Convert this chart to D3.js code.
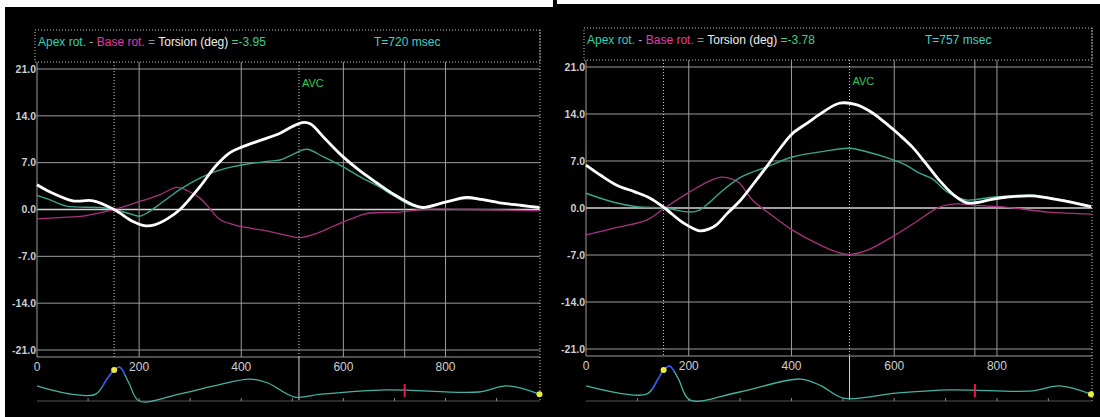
<!DOCTYPE html>
<html>
<head>
    <title>Torsion curves</title>
    <script src="https://d3js.org/d3.v7.min.js"></script>
</head>
<body style="margin: 0; padding: 0; background: #ffffff;">
    <div id="container"></div>

    <script>
        // eixos
        var yTicks = [-21, -14, -7, 0, 7, 14, 21];
        var xTicks = [0, 200, 400, 600, 800];
        var tMax = 985;

        // painel esquerdo [ms, graus]
        var leftTorsion = [[0, 3.7], [26, 2.6], [70, 1.3], [110, 1.3], [151, 0], [188, -1.8], [210, -2.4], [230, -2.3], [255, -1.4], [280, 0], [319, 3.4], [350, 6.5], [378, 8.5], [403, 9.4], [440, 10.4], [476, 11.4], [500, 12.4], [520, 13.0], [535, 12.8], [565, 10.5], [599, 7.9], [632, 5.8], [665, 4.0], [700, 2.2], [736, 0.7], [755, 0.3], [800, 1.1], [841, 1.8], [870, 1.5], [906, 1.0], [950, 0.6], [984, 0.3]];
        var leftApex = [[0, 2.1], [30, 1.3], [58, 0.5], [123, 0.3], [151, 0], [180, -0.6], [201, -1.0], [218, -0.4], [235, 0.5], [258, 1.8], [280, 3.0], [319, 4.7], [350, 5.7], [384, 6.4], [450, 7.2], [476, 7.4], [500, 8.2], [528, 9.0], [560, 7.9], [599, 6.4], [630, 5.0], [665, 3.6], [700, 2.0], [736, 0.5], [760, 0.4], [800, 1.1], [841, 1.6], [906, 1.0], [984, 0.3]];
        var leftBase = [[0, -1.4], [45, -1.2], [90, -1.0], [123, -0.5], [151, 0], [201, 1.2], [240, 2.2], [274, 3.3], [295, 2.8], [319, 1.7], [340, 0], [358, -1.5], [397, -2.5], [450, -3.2], [490, -3.9], [515, -4.2], [550, -3.5], [580, -2.5], [615, -1.4], [646, -0.6], [710, -0.4], [755, 0], [850, 0], [984, -0.2]];
        var leftEcg = [[0, 0.42], [67, 0.19], [115, 0.19], [137, 0.61], [151, 0.86], [162, 0.94], [180, 0.5], [200, 0], [278, 0.19], [346, 0.42], [417, 0.61], [452, 0.5], [505, 0.11], [556, 0.19], [683, 0.31], [865, 0.25], [920, 0.42], [984, 0.19]];

        // painel direito
        var rightTorsion = [[0, 6.4], [30, 4.8], [60, 3.4], [95, 2.4], [124, 1.5], [153, 0], [189, -2.2], [221, -3.4], [240, -3.1], [254, -2.5], [275, -0.8], [299, 1.0], [325, 3.5], [351, 6.1], [375, 8.6], [402, 11.1], [430, 12.6], [454, 13.9], [493, 15.6], [526, 15.4], [555, 14.3], [584, 12.6], [610, 10.9], [635, 9.1], [660, 6.8], [687, 4.2], [715, 2.0], [740, 0.8], [759, 0.8], [790, 1.3], [817, 1.6], [868, 1.8], [920, 1.2], [983, 0.2]];
        var rightApex = [[0, 2.2], [52, 0.9], [99, 0.2], [153, 0], [202, -0.6], [221, -0.3], [240, 0.8], [260, 2.2], [299, 4.5], [351, 6.1], [402, 7.6], [460, 8.4], [513, 8.9], [550, 8.3], [590, 7.4], [620, 6.5], [649, 5.2], [675, 4.3], [701, 2.5], [740, 1.2], [790, 1.6], [868, 1.9], [920, 1.3], [983, 0.3]];
        var rightBase = [[0, -4.0], [60, -2.9], [118, -1.8], [153, 0], [202, 2.4], [240, 4.0], [264, 4.6], [285, 4.3], [299, 3.7], [324, 1.2], [360, -1.0], [402, -3.3], [450, -5.3], [490, -6.6], [513, -6.9], [550, -6.2], [596, -4.3], [640, -2.2], [687, 0.1], [720, 0.6], [760, 0.4], [820, 0.1], [900, -0.6], [983, -0.9]];
        var rightEcg = [[0, 0.42], [118, 0.19], [140, 0.61], [151, 0.86], [163, 0.97], [180, 0.61], [202, 0.03], [299, 0.25], [418, 0.61], [458, 0.42], [501, 0.08], [604, 0.22], [709, 0.31], [868, 0.28], [922, 0.42], [983, 0.19]];

        var panels = [
            { left: 37, right: 540, top: 69, bottom: 350, headTop: 30, headBottom: 62, strip: 401,
              torsion: leftTorsion, apex: leftApex, base: leftBase, ecg: leftEcg,
              value: "=-3.95", cursor: 720, label: "T=720 msec", avc: 513, event: 151 },
            { left: 586, right: 1092, top: 67, bottom: 349, headTop: 28, headBottom: 60, strip: 401,
              torsion: rightTorsion, apex: rightApex, base: rightBase, ecg: rightEcg,
              value: "=-3.78", cursor: 757, label: "T=757 msec", avc: 513, event: 151 }
        ];

        var svg = d3.select("#container").append("svg")
            .attr("width", 1100)
            .attr("height", 417)
            .style("display", "block");

        // fundo preto
        svg.append("rect").attr("x", 5).attr("y", 7).attr("width", 551).attr("height", 410).style("fill", "#000");
        svg.append("rect").attr("x", 556).attr("y", 4).attr("width", 544).attr("height", 413).style("fill", "#000");
        svg.append("rect").attr("x", 553).attr("y", 0).attr("width", 4).attr("height", 8).style("fill", "#000");

        var font = "'Liberation Sans', Arial, sans-serif";
        var grid = "#9c9c9c";

        panels.forEach(function (p) {
            var x = d3.scaleLinear().domain([0, tMax]).range([p.left, p.right]);
            var y = d3.scaleLinear().domain([-21, 21]).range([p.bottom, p.top]);
            var ys = d3.scaleLinear().domain([0, 1]).range([p.strip, p.strip - 36]);
            var g = svg.append("g");

            // caixa do titulo
            g.append("rect")
                .attr("x", p.left - 2).attr("y", p.headTop)
                .attr("width", p.right - p.left + 2).attr("height", p.headBottom - p.headTop)
                .style("fill", "none").style("stroke", "#c8c8a8")
                .style("stroke-dasharray", "1,2");

            var head = g.append("text")
                .attr("x", p.left + 1).attr("y", p.headTop + 16)
                .style("font-family", font).style("font-size", "12px");
            head.append("tspan").style("fill", "#2fd2b4").text("Apex rot.");
            head.append("tspan").style("fill", "#b0b0b0").text(" - ");
            head.append("tspan").style("fill", "#e23aa8").text("Base rot.");
            head.append("tspan").style("fill", "#909090").text(" = ");
            head.append("tspan").style("fill", "#eeeeee").text("Torsion (deg) ");
            head.append("tspan").style("fill", "#35d08e").text(p.value);

            g.append("text")
                .attr("x", x(660)).attr("y", p.headTop + 16)
                .style("font-family", font).style("font-size", "12px")
                .style("fill", "#3fd0c6")
                .text(p.label);

            // grade horizontal
            g.selectAll(".hgrid").data(yTicks).enter().append("line")
                .attr("x1", p.left).attr("x2", p.right)
                .attr("y1", d => y(d)).attr("y2", d => y(d))
                .style("stroke", d => d === 0 ? "#d4d4d4" : grid)
                .style("stroke-width", d => d === 0 ? 1.6 : 1);

            g.append("line")
                .attr("x1", p.left).attr("x2", p.right)
                .attr("y1", p.bottom + 7).attr("y2", p.bottom + 7)
                .style("stroke", grid);

            g.selectAll(".ylab").data(yTicks).enter().append("text")
                .attr("x", p.left - 1).attr("y", d => y(d))
                .attr("dy", "0.35em")
                .attr("text-anchor", "end")
                .style("font-family", font)
                .style("font-size", "10.5px")
                .style("font-weight", "bold")
                .style("fill", "#cfcfcf")
                .text(d => d.toFixed(1));

            // grade vertical + cursor
            g.selectAll(".vgrid").data(xTicks.slice(1).concat([p.cursor])).enter().append("line")
                .attr("x1", d => x(d)).attr("x2", d => x(d))
                .attr("y1", p.headBottom).attr("y2", p.bottom + 7)
                .style("stroke", grid);

            g.append("line")
                .attr("x1", p.left).attr("x2", p.left)
                .attr("y1", p.headBottom).attr("y2", p.bottom + 7)
                .style("stroke", grid);

            // linhas pontilhadas
            g.append("line")
                .attr("x1", x(p.event)).attr("x2", x(p.event))
                .attr("y1", p.headBottom).attr("y2", p.bottom + 8)
                .style("stroke", "#d8d8b8").style("stroke-dasharray", "1,2");
            g.append("line")
                .attr("x1", x(p.avc)).attr("x2", x(p.avc))
                .attr("y1", p.headBottom).attr("y2", p.bottom + 7)
                .style("stroke", "#d8d8b8").style("stroke-dasharray", "1,2");
            g.append("line")
                .attr("x1", x(p.avc)).attr("x2", x(p.avc))
                .attr("y1", p.bottom + 7).attr("y2", p.strip - 1)
                .style("stroke", "#d0d0d0");
            g.append("line")
                .attr("x1", p.right).attr("x2", p.right)
                .attr("y1", p.headTop).attr("y2", p.strip)
                .style("stroke", "#d8d8b8").style("stroke-dasharray", "1,2");

            g.append("text")
                .attr("x", x(p.avc) + 3).attr("y", p.top + 18)
                .style("font-family", font).style("font-size", "11px")
                .style("fill", "#33c95a")
                .text("AVC");

            // curvas
            var line = d3.line()
                .x(d => x(d[0]))
                .y(d => y(d[1]))
                .curve(d3.curveCatmullRom.alpha(0.5));

            g.append("path").attr("d", line(p.base))
                .style("fill", "none").style("stroke", "#a8327c").style("stroke-width", 1.3);
            g.append("path").attr("d", line(p.apex))
                .style("fill", "none").style("stroke", "#3aa58e").style("stroke-width", 1.4);
            g.append("path").attr("d", line(p.torsion))
                .style("fill", "none").style("stroke", "#ffffff").style("stroke-width", 2.8)
                .style("stroke-linejoin", "round");

            // faixa do ECG
            g.selectAll(".xlab").data(xTicks).enter().append("text")
                .attr("x", d => x(d)).attr("y", p.bottom + 21)
                .attr("text-anchor", "middle")
                .style("font-family", font).style("font-size", "12px")
                .style("fill", "#d0d0d0")
                .text(d => d);

            g.append("line")
                .attr("x1", p.left).attr("x2", p.right)
                .attr("y1", p.strip).attr("y2", p.strip)
                .style("stroke", "#555");
            g.selectAll(".stick").data(d3.range(100, tMax, 100)).enter().append("line")
                .attr("x1", d => x(d)).attr("x2", d => x(d))
                .attr("y1", p.strip).attr("y2", p.strip - 3)
                .style("stroke", "#888");

            var ecgLine = d3.line()
                .x(d => x(d[0]))
                .y(d => ys(d[1]))
                .curve(d3.curveCatmullRom.alpha(0.5));

            g.append("path").attr("d", ecgLine(p.ecg))
                .style("fill", "none").style("stroke", "#44b4a2").style("stroke-width", 1.3);

            var clipId = "clip" + p.left;
            g.append("clipPath").attr("id", clipId).append("rect")
                .attr("x", x(128)).attr("y", p.strip - 40)
                .attr("width", x(172) - x(128)).attr("height", 40);
            g.append("path").attr("d", ecgLine(p.ecg))
                .attr("clip-path", "url(#" + clipId + ")")
                .style("fill", "none").style("stroke", "#3a4cff").style("stroke-width", 1.4);

            g.append("line")
                .attr("x1", x(p.cursor)).attr("x2", x(p.cursor))
                .attr("y1", p.strip - 17).attr("y2", p.strip - 4)
                .style("stroke", "#e8184a").style("stroke-width", 2);

            var first = p.ecg.find(d => d[0] === p.event) || p.ecg[3];
            var last = p.ecg[p.ecg.length - 1];
            g.selectAll(".dot").data([first, last]).enter().append("circle")
                .attr("cx", d => x(d[0])).attr("cy", d => ys(d[1]))
                .attr("r", 3)
                .style("fill", "#ecec3a");
        });
    </script>
</body>
</html>
